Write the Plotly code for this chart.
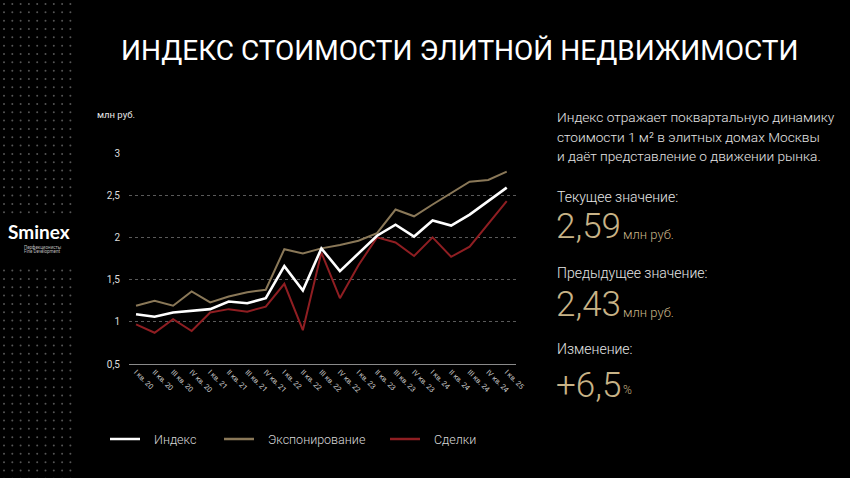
import plotly.graph_objects as go

# quarters, I кв. 20 .. I кв. 25
quarters = [
    "I кв. 20", "II кв. 20", "III кв. 20", "IV кв. 20",
    "I кв. 21", "II кв. 21", "III кв. 21", "IV кв. 21",
    "I кв. 22", "II кв. 22", "III кв. 22", "IV кв. 22",
    "I кв. 23", "II кв. 23", "III кв. 23", "IV кв. 23",
    "I кв. 24", "II кв. 24", "III кв. 24", "IV кв. 24",
    "I кв. 25",
]
index_vals = [1.09, 1.06, 1.11, 1.13, 1.15, 1.24, 1.22, 1.28, 1.66, 1.37, 1.87,
              1.60, 1.81, 2.02, 2.15, 2.01, 2.20, 2.14, 2.27, 2.43, 2.59]
listing_vals = [1.19, 1.25, 1.19, 1.36, 1.23, 1.30, 1.35, 1.38, 1.86, 1.81, 1.87,
                1.91, 1.96, 2.05, 2.33, 2.25, 2.39, 2.52, 2.66, 2.68, 2.78]
deals_vals = [0.97, 0.87, 1.03, 0.89, 1.11, 1.15, 1.12, 1.18, 1.45, 0.90, 1.82,
              1.28, 1.67, 2.00, 1.94, 1.78, 2.00, 1.77, 1.89, 2.16, 2.43]
y_ticks = [0.5, 1, 1.5, 2, 2.5, 3]

series_names = ["Индекс", "Экспонирование", "Сделки"]
colors = ["#ffffff", "#8a7858", "#8f1e22"]
widths = [2.6, 2.0, 2.0]

W, H = 850, 478
# plot area in pixels
L, R, T, B = 129, 516, 153, 364
GOLD = "#c8b387"
TEXT = "#e6e6e6"
FONT = "Roboto"


def px(x, y):
    # pixel position -> page paper coords
    return x / W, 1 - y / H


fig = go.Figure()
xs = list(range(len(quarters)))
# gold and red first, white on top
for i in (1, 2, 0):
    vals = [index_vals, listing_vals, deals_vals][i]
    fig.add_trace(go.Scatter(x=xs, y=vals, mode="lines", name=series_names[i],
                             line=dict(color=colors[i], width=widths[i]),
                             showlegend=False))

# decorative dot grid on the left
dx, dy = [], []
for r in range(58):
    yy = 4 + r * 8.33
    if 214 < yy < 264:
        continue
    for c in range(9):
        dx.append(4 + c * 8.3)
        dy.append(yy)
fig.add_trace(go.Scatter(x=dx, y=dy, mode="markers", xaxis="x2", yaxis="y2",
                         marker=dict(size=2, color="#555555"), showlegend=False,
                         hoverinfo="skip"))

annotations = []


def text(x, y, s, size, color=TEXT, xanchor="left", weight=400, family=FONT):
    ax, ay = px(x, y)
    annotations.append(dict(x=ax, y=ay, xref="paper", yref="paper", text=s,
                            showarrow=False, xanchor=xanchor, yanchor="middle",
                            font=dict(size=size, color=color, family=family, weight=weight)))


text(459, 50, "ИНДЕКС СТОИМОСТИ ЭЛИТНОЙ НЕДВИЖИМОСТИ", 28, "#ffffff", "center", 400)
text(95, 114, "млн руб.", 9.5)

text(555, 117, "Индекс отражает поквартальную динамику", 13.7, weight=300)
text(555, 137, "стоимости 1 м² в элитных домах Москвы", 13.7, weight=300)
text(555, 156, "и даёт представление о движении рынка.", 13.7, weight=300)

text(555, 197, "Текущее значение:", 14, weight=300)
text(554, 226, "2,59", 35, GOLD, weight=300)
text(621, 234, "млн руб.", 13, GOLD, weight=300)
text(555, 273, "Предыдущее значение:", 14, weight=300)
text(554, 304, "2,43", 35, GOLD, weight=300)
text(621, 312, "млн руб.", 13, GOLD, weight=300)
text(555, 349, "Изменение:", 14, weight=300)
text(554, 385, "+6,5", 35, GOLD, weight=300)
text(621, 390, "%", 12, GOLD, weight=300)

# logo
text(39, 232, "Sminex", 19, "#ffffff", "center", 700, "Lato")
text(22, 246.5, "Перфекционисты", 4.5, "#bbbbbb", weight=400)
text(22, 251.5, "Fine Development", 4.5, "#bbbbbb", weight=400)

# legend drawn by hand
shapes = []
legend_items = [(110, 153), (224, 267), (390, 433)]
for (lx, tx), name, c in zip(legend_items, series_names, colors):
    x0, y0 = px(lx, 439)
    x1, _ = px(lx + 30, 439)
    shapes.append(dict(type="line", xref="paper", yref="paper", x0=x0, x1=x1,
                       y0=y0, y1=y0, line=dict(color=c, width=2.5)))
    text(tx - 1, 439, name, 12.5, "#d8d8d8", weight=300)

fig.update_layout(
    width=W, height=H,
    paper_bgcolor="#000000", plot_bgcolor="rgba(0,0,0,0)",
    margin=dict(l=0, r=0, t=0, b=0),
    separators=", ",
    font=dict(family=FONT, color=TEXT),
    annotations=annotations,
    shapes=shapes,
    hovermode=False,
    xaxis=dict(
        domain=[L / W, R / W],
        range=[-0.38, 20.5], tickvals=xs, ticktext=quarters, tickangle=45,
        tickfont=dict(size=7.3, color="#cccccc"), showgrid=False, zeroline=False,
        showline=True, linecolor="#8a8a8a", linewidth=1, ticks="",
        fixedrange=True, automargin=False,
    ),
    yaxis=dict(
        domain=[1 - B / H, 1 - T / H],
        range=[0.5, 3.0], tickvals=y_ticks, tickfont=dict(size=10, color="#dddddd"),
        showgrid=True, gridcolor="#5a5a5a", griddash="dot", gridwidth=1,
        zeroline=False, showline=False, ticks="", ticklabelstandoff=8,
        fixedrange=True, automargin=False,
    ),
    xaxis2=dict(domain=[0, 1], range=[0, W], visible=False, anchor="y2",
                fixedrange=True),
    yaxis2=dict(domain=[0, 1], range=[H, 0], visible=False, anchor="x2",
                fixedrange=True),
)

fig.write_html("out.html", config={"displayModeBar": False},
               post_script="document.body.style.margin='0';")
